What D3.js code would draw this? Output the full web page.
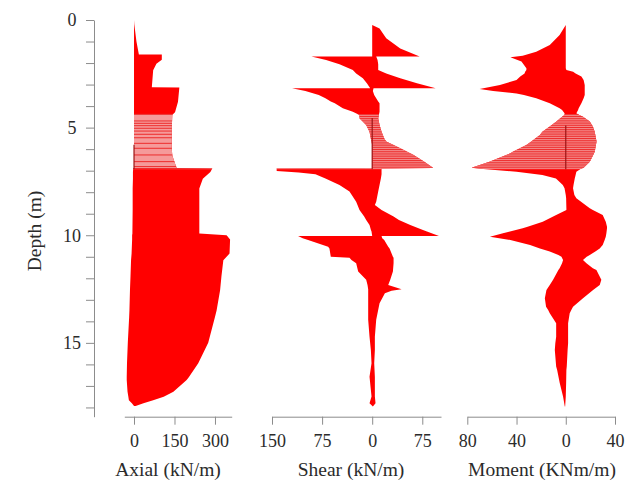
<!DOCTYPE html>
<html>
<head>
<meta charset="utf-8">
<script src="https://cdn.jsdelivr.net/npm/d3@7"></script>
<style>
  body { margin: 0; background: #fff; }
  text { font-family: "Liberation Serif", "Times New Roman", serif; fill: #2b2b2b; }
</style>
</head>
<body>
<svg width="635" height="487"></svg>
<script>
// envelopes: depth (m), min and max value at that depth
const axialDepth = [0, 0.2, 1.0, 1.6, 1.6, 1.85, 2.03, 2.34, 3.12, 3.14, 3.8, 4.28, 4.4, 5.0, 6.0, 6.3, 6.6, 6.88,
  6.9, 7.06, 7.37, 7.83, 8.8, 9.92, 10.0, 10.2, 10.85, 11.16, 11.9, 12.55, 13.5, 13.8, 15.0, 15.95, 16.6, 16.73,
  17.27, 17.5, 17.66, 17.81, 17.93];
const axialMin = [0, 0, 0, 0, 0, 0, 0, 0, 0, 0, 0, 0, 0, 0, 0, 0, 0, 0,
  -3, -4, -4, -5, -5, -6, -7, -7, -9, -11, -13, -15, -17, -18, -23, -26, -27, -27,
  -24, -21, -19, -8, 0];
const axialMax = [0, 1, 9, 18, 103, 103, 83, 71, 66, 168, 163, 152, 142, 140, 140, 142, 150, 158,
  290, 283, 255, 242, 242, 242, 343, 356, 354, 331, 324, 319, 306, 300, 275, 238, 203, 195,
  146, 110, 71, 35, 6];

const shearDepth = [0.23, 0.39, 0.85, 1.32, 1.7, 1.7, 1.86, 2.06, 2.32, 2.48, 2.71, 2.94, 3.17, 3.17, 3.3, 3.48,
  3.64, 3.79, 3.87, 4.1, 4.26, 4.41, 4.57, 4.88, 5.19, 5.5, 5.65, 5.81, 5.96, 6.27, 6.58, 6.86, 6.88, 6.9, 7.02,
  7.08, 7.17, 7.36, 7.66, 7.97, 8.44, 8.59, 8.83, 9.13, 9.29, 9.52, 9.75, 9.83, 10.03, 10.03, 10.14, 10.22, 10.53,
  10.61, 11.0, 11.05, 11.15, 11.3, 11.69, 12.07, 12.31, 12.51, 12.58, 12.7, 13.16, 13.93, 14.71, 15.33, 15.95,
  16.57, 17.49, 17.8, 17.96];
const shearMin = [0, 0, 0, 0, 0, -91, -69, -49, -29, -24, -14, -8, -3, -120, -100, -80,
  -70, -62, -56, -44, -29, -19, -19, -9, -4, -2, -1, 0, 0, 0, 0, 0, 0, -143, -143,
  -110, -85, -70, -49, -34, -24, -22, -19, -12, -9, -4, -2, -1, 0, -111, -104, -96, -66,
  -64, -62, -34, -31, -24, -21, -9, -7, -6, -6, -6, -6, -6, -4, -2, -1,
  -4, -1, -4, 1];
const shearMax = [0, 11, 21, 42, 71, 6, 8, 9, 9, 21, 42, 67, 95, 2, 1, 3,
  6, 9, 11, 11, 11, 10, 9, 11, 14, 18, 21, 32, 42, 62, 78, 91, 90, 14, 14,
  14, 14, 13, 11, 9, 6, 4, 14, 32, 40, 57, 75, 82, 100, 14, 15, 18, 24,
  26, 31, 32, 32, 32, 31, 27, 24, 44, 29, 19, 11, 6, 4, 4, 3,
  4, 4, 5, 1];

const momentDepth = [0.23, 0.7, 1.16, 1.47, 1.66, 1.73, 1.93, 2.24, 2.32, 2.4, 2.48, 2.63, 2.79, 3.02, 3.21, 3.3,
  3.41, 3.48, 3.64, 3.87, 4.1, 4.18, 4.33, 4.41, 4.49, 4.72, 4.95, 5.19, 5.34, 5.65, 5.81, 6.12, 6.19, 6.58, 6.86,
  6.92, 7.05, 7.2, 7.36, 7.66, 7.82, 8.13, 8.28, 8.75, 8.83, 9.06, 9.37, 9.6, 9.68, 9.91, 10.07, 10.22, 10.45,
  10.61, 10.76, 10.92, 11.0, 11.15, 11.3, 11.53, 11.61, 12.07, 12.31, 12.54, 12.93, 13.32, 13.47, 13.62, 14.09,
  14.71, 15.02, 15.33, 16.1, 16.26, 16.87, 17.49, 17.96];
const momentMin = [0, -5, -13, -24, -35, -45, -36, -32, -32, -33, -33.5, -37, -40, -53.5, -70, -59,
  -40, -34, -24, -13, -5, -3, -1, -1, -3, -7.6, -13, -19, -21, -28, -32, -43, -45, -62, -76.5,
  -67, -40, -19, -8, -2.4, -1, 0, 0.3, 0.5, 0.5, -7.8, -18.7, -31, -35, -51, -61.6, -45, -29,
  -21, -13, -6, -3.5, -2.2, -3, -5, -6, -10.3, -13, -15.7, -17, -16, -14.3, -13, -7.8,
  -7.8, -8.5, -8.9, -7.8, -7, -4.9, -2.2, -0.8];
const momentMax = [0, 0, 0, 0, 0, 0, 0, 0, 0.5, 6, 8, 12.7, 14.5, 15.4, 15.4, 15.4,
  15.4, 15.4, 14.5, 12.7, 10.5, 10, 8.6, 11, 14, 19.5, 22, 23.5, 24, 25, 24.5, 23.5, 23, 19.5, 14.5,
  12, 8.6, 8, 7.3, 6.3, 5.9, 7, 8.6, 19.5, 22, 30, 32.5, 33.5, 33.5, 33, 32.5, 31.6, 30,
  27.6, 24, 19.5, 17, 14, 16.8, 22, 24.9, 28.9, 27.6, 22.2, 14, 5.9, 4.5, 3.2, 1.9,
  1.9, 1.9, 1.5, 0.8, 0.5, 0.3, 0, -0.5];

const depthTicks = d3.range(0, 19);
const hatchTop = 4.38;
const hatchBottom = 6.93;

const svg = d3.select('svg');

const y = d3.scaleLinear().domain([0, 18.43]).range([20, 416.7]);
const axisY = 416.7;

const panels = [
  { id: 'axial', depth: axialDepth, lo: axialMin, hi: axialMax,
    x: d3.scaleLinear().domain([-36, 362]).range([124.3, 231.7]),
    ticks: [0, 150, 300], title: 'Axial (kN/m)', titleX: 168, zeroFrom: 5.8,
    hatchLines: [4.38, 4.69, 4.8, 4.91, 5.03, 5.16, 5.31, 5.47, 5.73, 5.96, 6.27, 6.58, 6.81, 6.9] },
  { id: 'shear', depth: shearDepth, lo: shearMin, hi: shearMax,
    x: d3.scaleLinear().domain([-150, 103]).range([272, 441]),
    ticks: [-150, -75, 0, 75], title: 'Shear (kN/m)', titleX: 351, zeroFrom: 4.55,
    hatchLines: d3.range(4.4, 6.95, 0.085) },
  { id: 'moment', depth: momentDepth, lo: momentMin, hi: momentMax,
    x: d3.scaleLinear().domain([-80, 40]).range([467.3, 615]),
    ticks: [-80, -40, 0, 40], title: 'Moment (KNm/m)', titleX: 542, zeroFrom: 4.9,
    hatchLines: d3.range(4.4, 6.95, 0.085) }
];

panels.forEach(p => {
  const rows = p.depth.map((d, i) => ({ d, lo: p.lo[i], hi: p.hi[i] }));
  const area = d3.area()
    .y(r => y(r.d))
    .x0(r => p.x(r.lo))
    .x1(r => p.x(r.hi));

  svg.append('path')
    .attr('d', area(rows))
    .attr('fill', '#ff0000');

  // lighter hatched band, clipped to the envelope
  svg.append('clipPath')
    .attr('id', 'clip-' + p.id)
    .append('path')
    .attr('d', area(rows));

  const h = svg.append('g').attr('clip-path', `url(#clip-${p.id})`);
  const [x0, x1] = p.x.range();
  h.append('rect')
    .attr('x', x0 - 20)
    .attr('width', x1 - x0 + 40)
    .attr('y', y(hatchTop))
    .attr('height', y(hatchBottom) - y(hatchTop))
    .attr('fill', '#f59a9a');
  h.selectAll('line')
    .data(p.hatchLines)
    .enter()
    .append('line')
    .attr('x1', x0 - 20)
    .attr('x2', x1 + 20)
    .attr('y1', d => y(d))
    .attr('y2', d => y(d))
    .attr('stroke', '#ec2020')
    .attr('stroke-width', 0.9);

  svg.append('line')
    .attr('x1', p.x(0)).attr('x2', p.x(0))
    .attr('y1', y(p.zeroFrom)).attr('y2', y(hatchBottom))
    .attr('stroke', '#9c1515')
    .attr('stroke-width', 1.2);

  const ax = svg.append('g')
    .attr('transform', `translate(0,${axisY})`)
    .call(d3.axisBottom(p.x).tickValues(p.ticks).tickSize(8).tickSizeOuter(0).tickFormat(v => Math.abs(v)));
  ax.select('.domain').attr('stroke', '#8c8c8c');
  ax.selectAll('.tick line').attr('stroke', '#8c8c8c');
  ax.selectAll('.tick text')
    .attr('y', 30).attr('dy', 0)
    .attr('font-size', 18)
    .attr('font-family', '"Liberation Serif", serif')
    .attr('fill', '#2b2b2b');

  svg.append('text')
    .attr('x', p.titleX)
    .attr('y', 476)
    .attr('text-anchor', 'middle')
    .attr('font-size', 19.5)
    .text(p.title);
});

const ay = svg.append('g')
  .attr('transform', 'translate(94,0)')
  .call(d3.axisLeft(y).tickValues(depthTicks).tickSize(8).tickSizeOuter(0)
    .tickFormat(d => (d % 5 === 0 ? d : '')));
ay.select('.domain').attr('stroke', '#8c8c8c');
ay.selectAll('.tick line').attr('stroke', '#8c8c8c');
ay.selectAll('.tick text')
  .attr('x', -22)
  .attr('text-anchor', 'middle')
  .attr('font-size', 18)
  .attr('font-family', '"Liberation Serif", serif')
  .attr('fill', '#2b2b2b');

svg.append('text')
  .attr('transform', 'translate(41,231) rotate(-90)')
  .attr('text-anchor', 'middle')
  .attr('font-size', 19.5)
  .text('Depth (m)');
</script>
</body>
</html>
